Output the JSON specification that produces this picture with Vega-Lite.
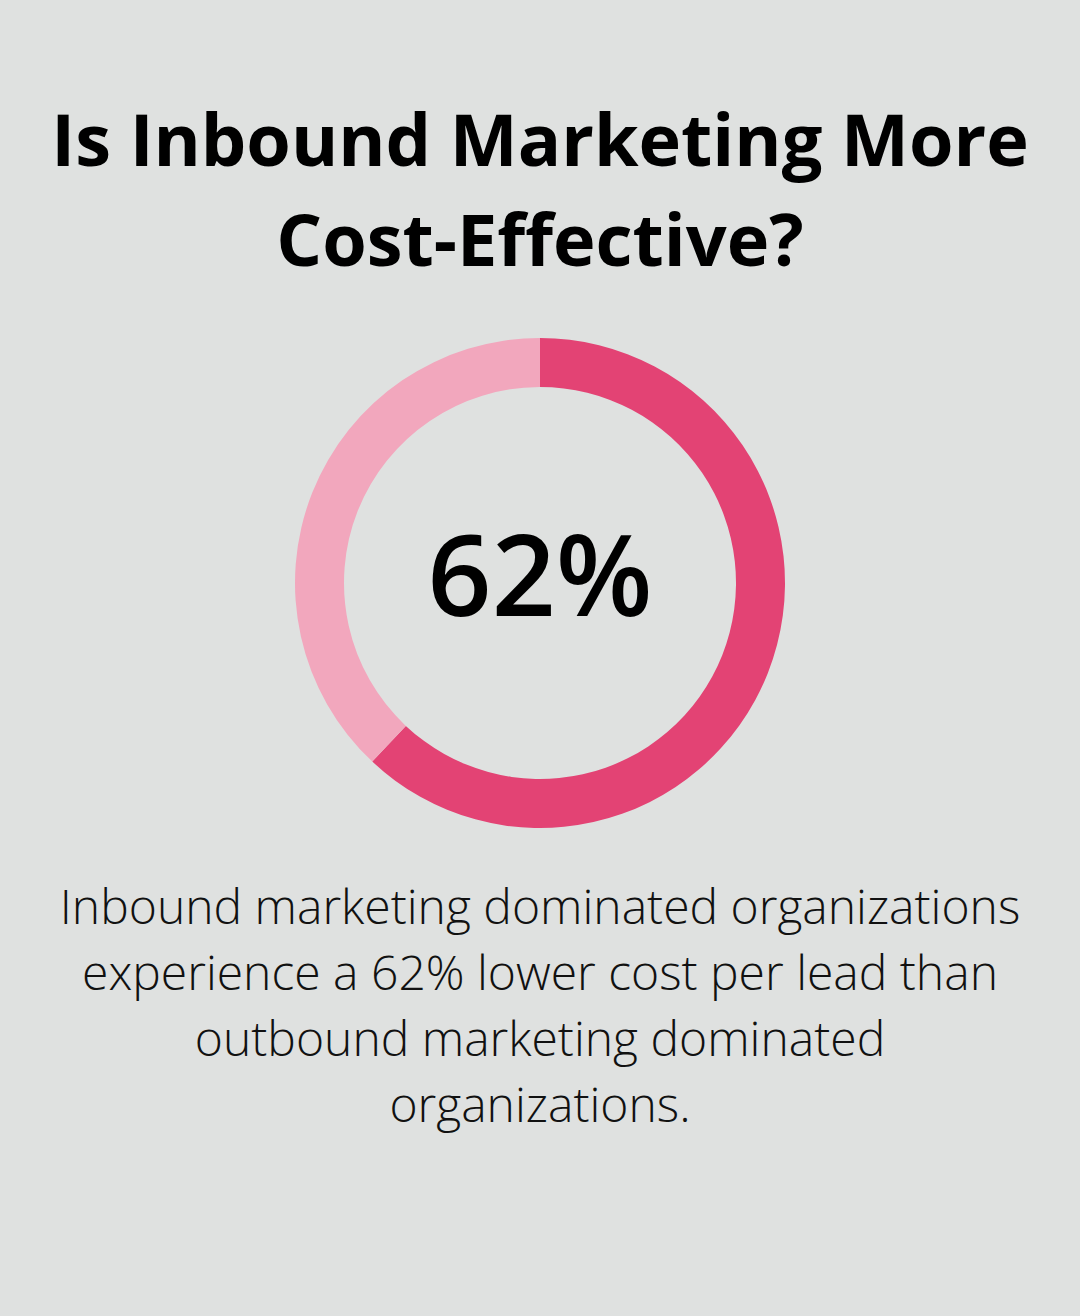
{
  "$schema": "https://vega.github.io/schema/vega-lite/v6.json",
  "background": "#dfe1e0",
  "padding": {"top": 108, "left": 0, "right": 0, "bottom": 145},
  "spacing": 0,
  "config": {"view": {"stroke": null}, "font": "Open Sans"},
  "vconcat": [
    {
      "title": {
        "text": ["Is Inbound Marketing More", "Cost-Effective?"],
        "font": "Open Sans",
        "fontSize": 72,
        "fontWeight": "bold",
        "lineHeight": 100,
        "color": "#000000",
        "anchor": "middle",
        "offset": 40
      },
      "width": 1080,
      "height": 524,
      "data": {"values": [
        {"segment": "Inbound", "share": 62, "label": "62%"},
        {"segment": "Other", "share": 38, "label": ""}
      ]},
      "layer": [
        {
          "mark": {"type": "arc", "outerRadius": 245, "innerRadius": 196},
          "encoding": {
            "theta": {"field": "share", "type": "quantitative", "stack": true},
            "order": {"field": "segment", "type": "nominal", "sort": "ascending"},
            "color": {
              "field": "segment",
              "type": "nominal",
              "scale": {"domain": ["Inbound", "Other"], "range": ["#e34374", "#f2a7bd"]},
              "legend": null
            }
          }
        },
        {
          "transform": [{"filter": "datum.label != ''"}],
          "mark": {"type": "text", "font": "Open Sans", "fontSize": 112, "fontWeight": 600, "color": "#000000", "align": "center", "baseline": "alphabetic", "dy": 33},
          "encoding": {"text": {"field": "label", "type": "nominal"}}
        }
      ]
    },
    {
      "width": 1080,
      "height": 326,
      "data": {"values": [
        {"caption": "Inbound marketing dominated organizations\nexperience a 62% lower cost per lead than\noutbound marketing dominated\norganizations."}
      ]},
      "mark": {"type": "text", "font": "Open Sans", "fontSize": 48, "fontWeight": 300, "lineHeight": 66, "lineBreak": "\n", "color": "#111111", "align": "center", "baseline": "middle", "dy": -98},
      "encoding": {"text": {"field": "caption", "type": "nominal"}}
    }
  ]
}
